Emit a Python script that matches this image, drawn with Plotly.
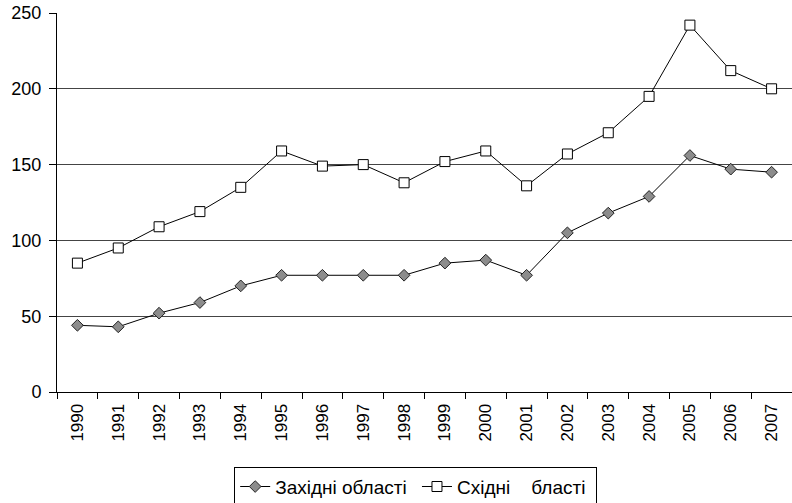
import plotly.graph_objects as go

years = [str(y) for y in range(1990, 2008)]
western = [44, 43, 52, 59, 70, 77, 77, 77, 77, 85, 87, 77, 105, 118, 129, 156, 147, 145]
eastern = [85, 95, 109, 119, 135, 159, 149, 150, 138, 152, 159, 136, 157, 171, 195, 242, 212, 200]

name_w = "Західні області\u00a0"
name_e = "Східні\u00a0\u00a0\u00a0 бласті\u00a0"

fig = go.Figure()
fig.add_trace(go.Scatter(
    x=years, y=western, name=name_w, mode="lines+markers",
    line=dict(color="black", width=1),
    marker=dict(symbol="diamond", size=9, color="#8c8c8c", line=dict(color="#222", width=1)),
))
fig.add_trace(go.Scatter(
    x=years, y=eastern, name=name_e, mode="lines+markers",
    line=dict(color="black", width=1),
    marker=dict(symbol="square", size=10, color="white", line=dict(color="black", width=1)),
))

fig.update_layout(
    width=792, height=503,
    margin=dict(l=57, r=0, t=13, b=111, autoexpand=False),
    paper_bgcolor="white", plot_bgcolor="white",
    font=dict(family="Liberation Sans, Arial, sans-serif", color="black", size=18),
    showlegend=True,
    legend=dict(
        orientation="h", x=0.488, xanchor="center", y=-0.197, yanchor="top",
        bordercolor="black", borderwidth=1, font=dict(size=19),
        itemwidth=30, tracegroupgap=0,
    ),
)
fig.update_yaxes(
    range=[0, 250], dtick=50, showgrid=True, gridcolor="#444", gridwidth=1,
    showline=True, linecolor="black", linewidth=1, automargin=False,
    ticks="outside", ticklen=7, tickcolor="black", zeroline=False,
    tickfont=dict(size=18), ticklabelstandoff=4,
)
fig.update_xaxes(
    type="category", showgrid=False, showline=True, linecolor="black", linewidth=1,
    ticks="outside", ticklen=6, tickcolor="black", tickson="boundaries", automargin=False,
    tickangle=-90, tickfont=dict(size=17), ticklabelstandoff=4, range=[-0.5, 17.5],
)

fig.write_html(
    "out.html",
    config={"displayModeBar": False},
    post_script="document.body.style.margin='0';document.body.style.overflow='hidden';",
)
